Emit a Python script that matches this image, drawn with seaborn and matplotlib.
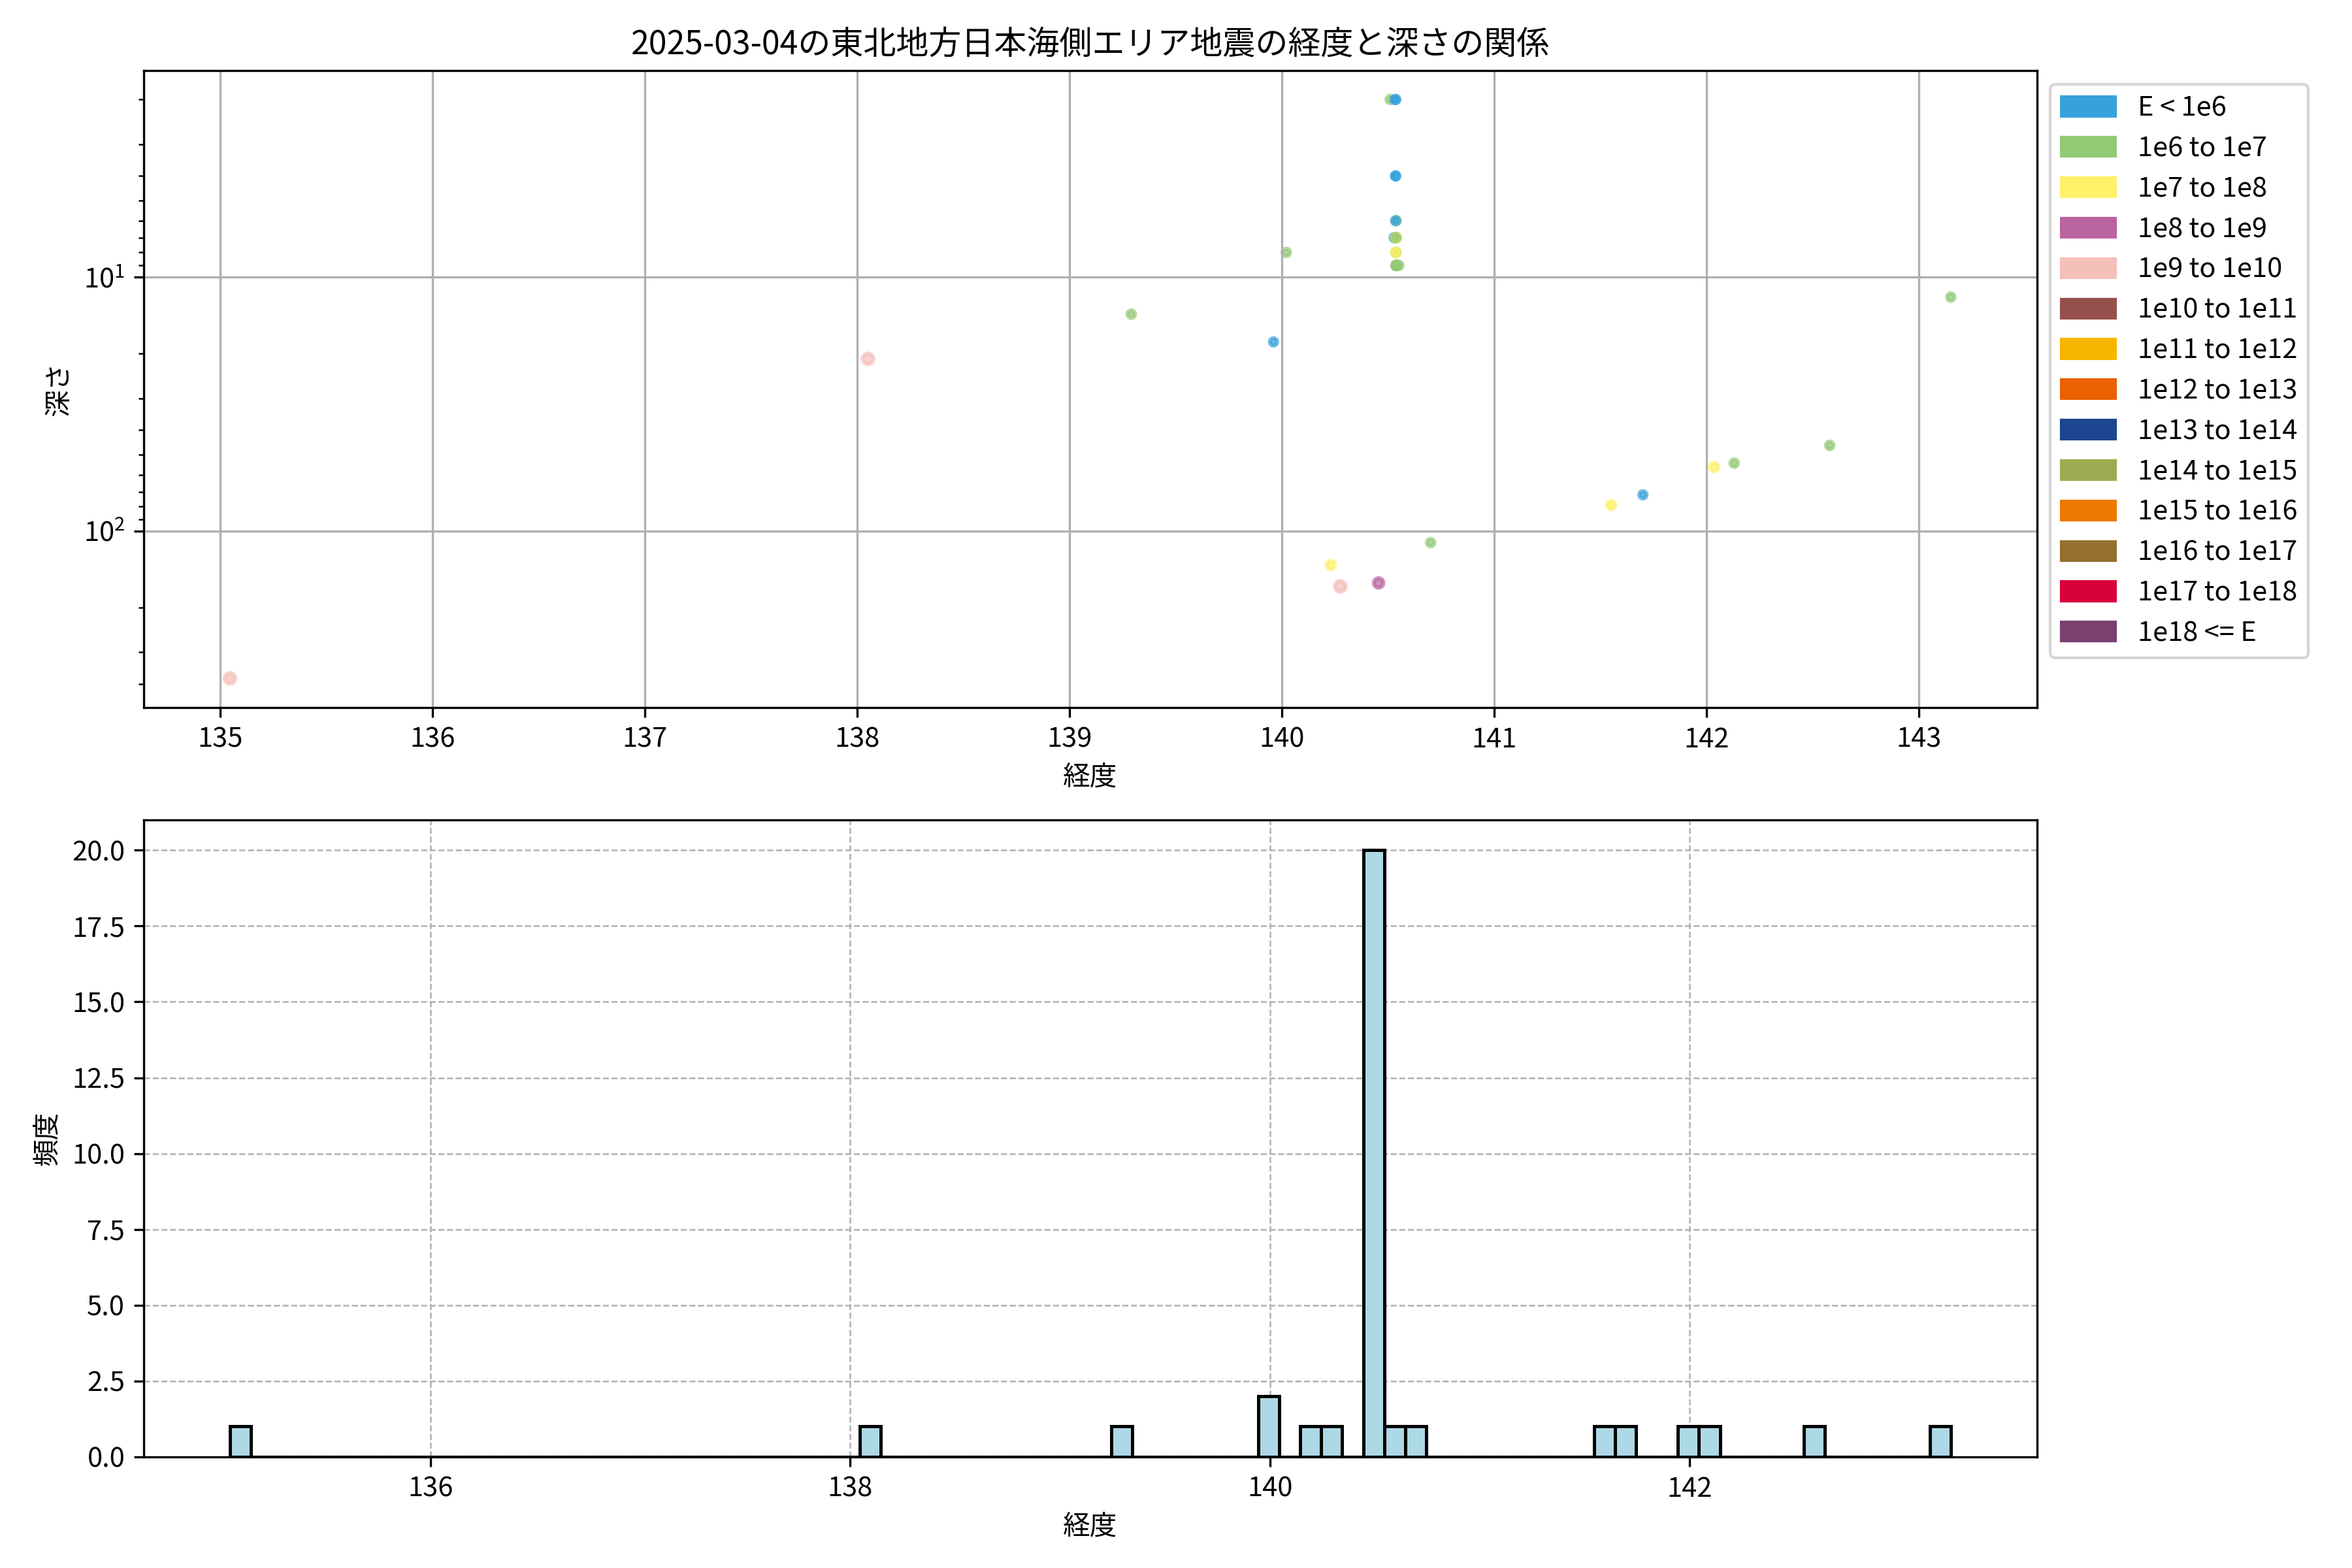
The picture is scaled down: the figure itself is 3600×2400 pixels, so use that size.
import numpy as np
import pandas as pd
import matplotlib
matplotlib.use("Agg")
import matplotlib.pyplot as plt
import matplotlib.patches as mpatches
from matplotlib.ticker import MultipleLocator
import seaborn as sns

plt.rcParams['font.family'] = ['Noto Sans CJK JP', 'DejaVu Sans']

# %%
# 震源データ (経度, 深さ km, エネルギー区分)
longitudes = [135.045, 138.05, 139.29, 139.96, 140.02, 140.23, 140.275, 140.455,
              140.70, 141.55, 141.70, 142.035, 142.13, 142.58, 143.15,
              140.51, 140.533, 140.536, 140.535, 140.535, 140.538, 140.535,
              140.528, 140.537, 140.537, 140.538, 140.537, 140.536, 140.538,
              140.538, 140.538, 140.538, 140.538, 140.536, 140.55]
depths = [380, 21, 14, 18, 8, 136, 165, 160,
          111, 79, 72, 56, 54, 46, 12,
          2, 2, 2, 4, 4, 6, 6,
          7, 7, 7, 7, 8, 8, 9,
          9, 9, 9, 9, 7, 9]
energy_class = ['1e9 to 1e10', '1e9 to 1e10', '1e6 to 1e7', 'E < 1e6', '1e6 to 1e7',
                '1e7 to 1e8', '1e9 to 1e10', '1e8 to 1e9', '1e6 to 1e7', '1e7 to 1e8',
                'E < 1e6', '1e7 to 1e8', '1e6 to 1e7', '1e6 to 1e7', '1e6 to 1e7',
                '1e6 to 1e7', 'E < 1e6', 'E < 1e6', 'E < 1e6', 'E < 1e6',
                '1e6 to 1e7', 'E < 1e6', 'E < 1e6', '1e6 to 1e7', '1e6 to 1e7',
                '1e7 to 1e8', '1e6 to 1e7', '1e7 to 1e8', '1e6 to 1e7', '1e6 to 1e7',
                '1e6 to 1e7', '1e6 to 1e7', '1e6 to 1e7', '1e6 to 1e7', '1e6 to 1e7']

# 凡例の区分と色
class_labels = ['E < 1e6', '1e6 to 1e7', '1e7 to 1e8', '1e8 to 1e9', '1e9 to 1e10',
                '1e10 to 1e11', '1e11 to 1e12', '1e12 to 1e13', '1e13 to 1e14',
                '1e14 to 1e15', '1e15 to 1e16', '1e16 to 1e17', '1e17 to 1e18',
                '1e18 <= E']
class_colors = ['#38A1DB', '#93CA76', '#FFF168', '#BA64A0', '#F5BFBA',
                '#95504C', '#F8B500', '#EB6101', '#1C4690',
                '#9BAC50', '#EE7800', '#946F2E', '#D7003A',
                '#7A406F']
class_sizes = [7, 7.5, 9, 12, 15, 18, 21, 24, 27, 30, 33, 36, 39, 42]

quake_data = pd.DataFrame({'経度': longitudes, '深さ': depths, 'class': energy_class})
palette = dict(zip(class_labels, class_colors))
size_map = dict(zip(class_labels, class_sizes))
used = [c for c in class_labels if c in set(energy_class)]

# %%
fig, (ax1, ax2) = plt.subplots(2, 1, figsize=(12, 8), dpi=300)
fig.subplots_adjust(left=0.0612, right=0.866, top=0.955, bottom=0.071, hspace=0.177)

# 経度と深さの散布図
sns.scatterplot(data=quake_data, x='経度', y='深さ', hue='class', hue_order=used,
                palette=palette, size='class', sizes={c: size_map[c] for c in used},
                alpha=0.7, linewidth=1.5, edgecolor='face', legend=False, ax=ax1)
ax1.set_yscale('log')
ax1.invert_yaxis()
ax1.grid(True)
ax1.set_title('2025-03-04の東北地方日本海側エリア地震の経度と深さの関係')
ax1.set_xlabel('経度')
ax1.set_ylabel('深さ')

handles = [mpatches.Patch(color=c, label=l) for l, c in zip(class_labels, class_colors)]
ax1.legend(handles=handles, loc='upper left', bbox_to_anchor=(1.0, 1.0))

# 経度のヒストグラム (0.1度刻み)
bin_w = 0.1
edges = np.arange(min(longitudes), max(longitudes) + bin_w, bin_w)
sns.histplot(x=longitudes, bins=edges, color='lightblue', edgecolor='black',
             linewidth=1.2, alpha=1, ax=ax2)
span = edges[-1] - edges[0]
ax2.set_xlim(edges[0] - 0.05 * span, edges[-1] + 0.05 * span)
ax2.xaxis.set_major_locator(MultipleLocator(2))
ax2.set_xlabel('経度')
ax2.set_ylabel('頻度')
ax2.grid(True, linestyle='--', linewidth=0.6)
ax2.set_axisbelow(True)

fig.savefig('out.png', dpi=300)
